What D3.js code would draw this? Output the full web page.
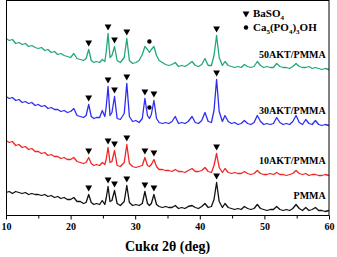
<!DOCTYPE html>
<html>
<head>
<meta charset="utf-8">
<script src="https://cdn.jsdelivr.net/npm/d3@7"></script>
<style>
  body { margin: 0; background: #fff; }
  svg { display: block; }
</style>
</head>
<body>
<div id="chart"></div>
<script>
// 2theta grid (deg), shared by all four patterns
const twoTheta = [
  10.0, 10.5, 11.0, 11.5, 12.0, 12.5, 13.0, 13.5, 14.0, 14.5,
  15.0, 15.5, 16.0, 16.5, 17.0, 17.5, 18.0, 18.5, 19.0, 19.5,
  20.0, 20.5, 21.0, 21.5, 22.0, 22.4, 22.8, 23.2, 23.6, 24.0,
  24.5, 24.9, 25.3, 25.5, 25.8, 26.1, 26.4, 26.8, 27.2, 27.7,
  28.3, 28.7, 29.1, 29.6, 30.1, 30.6, 31.1, 31.5, 31.9, 32.2,
  32.5, 32.9, 33.3, 33.7, 34.2, 34.7, 35.2, 35.7, 36.2, 36.7,
  37.2, 37.7, 38.2, 38.8, 39.3, 39.8, 40.3, 40.8, 41.3, 41.8,
  42.2, 42.6, 43.0, 43.5, 43.9, 44.4, 44.9, 45.4, 45.9, 46.4,
  46.9, 47.4, 47.9, 48.4, 48.9, 49.4, 49.9, 50.4, 50.9, 51.4,
  51.9, 52.4, 52.9, 53.4, 53.9, 54.4, 54.9, 55.4, 55.9, 56.4,
  56.9, 57.4, 57.9, 58.4, 58.9, 59.4, 60.0
];

// intensities (a.u., stacked offsets included)
const pmma = [
  23, 24, 22, 24, 23, 22, 23, 21, 22, 21,
  21, 20, 21, 19, 20, 18, 19, 17, 18, 16,
  16, 18, 14, 14, 12, 13, 21, 13, 11, 12,
  11, 15, 11, 17, 29, 14, 15, 25, 12, 10,
  14, 30, 13, 10, 11, 10, 12, 24, 12, 10,
  12, 21, 11, 9, 8, 9, 8, 8, 10, 7,
  8, 7, 9, 10, 8, 7, 9, 12, 8, 9,
  16, 33, 14, 8, 12, 8, 7, 6, 7, 6,
  9, 7, 6, 7, 11, 7, 6, 5, 6, 6,
  9, 6, 5, 6, 5, 7, 11, 7, 5, 8,
  5, 6, 8, 5, 5, 4, 5
];
const akt10 = [
  75, 73, 74, 70, 71, 68, 69, 66, 67, 64,
  64, 62, 63, 60, 61, 59, 59, 57, 58, 56,
  56, 58, 54, 53, 52, 53, 58, 52, 50, 51,
  50, 53, 51, 56, 68, 53, 54, 65, 50, 49,
  53, 71, 52, 49, 48, 49, 50, 58, 50, 49,
  51, 56, 49, 46, 46, 45, 45, 44, 46, 44,
  44, 43, 45, 47, 44, 44, 45, 48, 44, 43,
  50, 62, 48, 43, 47, 43, 42, 43, 42, 42,
  44, 42, 41, 42, 45, 42, 41, 41, 42, 41,
  43, 41, 41, 40, 41, 42, 45, 42, 41, 42,
  40, 41, 41, 40, 40, 41, 40
];
const akt30 = [
  119, 117, 118, 115, 116, 113, 114, 112, 113, 110,
  111, 109, 110, 107, 108, 106, 106, 104, 105, 103,
  104, 107, 100, 99, 98, 100, 111, 99, 97, 98,
  98, 105, 99, 108, 129, 100, 103, 119, 97, 96,
  102, 132, 99, 94, 95, 93, 97, 117, 100, 97,
  101, 115, 97, 93, 92, 93, 92, 94, 99, 92,
  93, 92, 94, 99, 93, 92, 95, 103, 94, 93,
  105, 136, 104, 94, 100, 94, 92, 93, 91, 92,
  95, 92, 91, 93, 100, 94, 91, 92, 91, 92,
  98, 93, 91, 92, 91, 94, 100, 93, 91, 96,
  92, 91, 95, 91, 90, 91, 90
];
const akt50 = [
  177, 175, 176, 172, 173, 171, 172, 169, 170, 168,
  167, 168, 165, 166, 163, 164, 161, 162, 160, 159,
  158, 162, 157, 156, 155, 157, 166, 155, 153, 154,
  153, 156, 154, 163, 182, 158, 160, 169, 155, 153,
  158, 177, 155, 152, 153, 155, 161, 169, 166, 163,
  166, 169, 160, 155, 153, 151, 150, 151, 153, 149,
  150, 149, 151, 154, 150, 149, 151, 157, 150, 150,
  160, 180, 158, 150, 154, 150, 149, 148, 149, 148,
  151, 149, 148, 149, 154, 150, 148, 149, 148, 148,
  152, 149, 148, 148, 147, 149, 152, 149, 148, 148,
  149, 147, 148, 147, 146, 147, 146
];

const seriesNames = ["PMMA", "10AKT/PMMA", "30AKT/PMMA", "50AKT/PMMA"];
const seriesColors = ["#111111", "#f02626", "#2d2df2", "#23a67c"];

// peak markers (deg)
const baso4Peaks = [22.8, 25.8, 26.8, 28.7, 31.5, 32.9, 42.6];
const baso4Peaks50 = [22.8, 25.8, 26.8, 28.7, 42.6];
const hapPeaks = [32.2];

const xTicks = [10, 20, 30, 40, 50, 60];
const xMinorTicks = [15, 25, 35, 45, 55];

const width = 337, height = 257;
const serif = "'Liberation Serif', 'Times New Roman', serif";

const x = d3.scaleLinear().domain([10, 60]).range([6, 329]);
const y = d3.scaleLinear().domain([0, 215]).range([215.5, 0.5]);

const svg = d3.select("#chart").append("svg")
  .attr("width", width)
  .attr("height", height)
  .style("background", "#fff");

const series = [
  {name: seriesNames[0], values: pmma, color: seriesColors[0], tri: baso4Peaks, dot: []},
  {name: seriesNames[1], values: akt10, color: seriesColors[1], tri: baso4Peaks, dot: []},
  {name: seriesNames[2], values: akt30, color: seriesColors[2], tri: baso4Peaks, dot: hapPeaks},
  {name: seriesNames[3], values: akt50, color: seriesColors[3], tri: baso4Peaks50, dot: hapPeaks}
];

const line = d3.line()
  .x((d, i) => x(twoTheta[i]))
  .y(d => y(d));

const valueAt = (s, t) => s.values[twoTheta.findIndex(v => Math.abs(v - t) < 0.01)];

const tri = d3.symbol().type(d3.symbolTriangle).size(20);

series.forEach(s => {
  const n = Math.min(s.values.length, twoTheta.length);
  svg.append("path")
    .attr("d", line(s.values.slice(0, n)))
    .attr("fill", "none")
    .attr("stroke", s.color)
    .attr("stroke-width", 1.3)
    .attr("stroke-linejoin", "round");

  svg.selectAll(null)
    .data(s.tri)
    .enter()
    .append("path")
    .attr("d", tri)
    .attr("transform", d => `translate(${x(d)},${y(valueAt(s, d)) - 7}) rotate(180)`)
    .attr("fill", "#000");

  svg.selectAll(null)
    .data(s.dot)
    .enter()
    .append("circle")
    .attr("cx", d => x(d))
    .attr("cy", d => y(valueAt(s, d)) - 11)
    .attr("r", 2.2)
    .attr("fill", "#000");

  svg.append("text")
    .attr("x", x(59.5))
    .attr("y", y(s.values[n - 1]) - 12)
    .attr("text-anchor", "end")
    .attr("font-family", serif)
    .attr("font-weight", 700)
    .attr("font-size", "10px")
    .text(s.name);
});

// frame
svg.append("rect")
  .attr("x", 6.5)
  .attr("y", 0.5)
  .attr("width", 322.5)
  .attr("height", 215)
  .attr("fill", "none")
  .attr("stroke", "#000")
  .attr("stroke-width", 1);

// x axis
const ax = svg.append("g")
  .attr("transform", "translate(0,215.5)")
  .call(d3.axisBottom(x).tickValues(xTicks).tickSize(4).tickFormat(d3.format("d")));
ax.select(".domain").remove();
ax.selectAll("text")
  .attr("dy", null)
  .attr("y", 14.5)
  .attr("font-family", serif)
  .attr("font-weight", 700)
  .attr("font-size", "10px")
  .attr("fill", "#000");

const axm = svg.append("g")
  .attr("transform", "translate(0,215.5)")
  .call(d3.axisBottom(x).tickValues(xMinorTicks).tickSize(3).tickFormat(""));
axm.select(".domain").remove();

svg.append("text")
  .attr("x", (x(10) + x(60)) / 2)
  .attr("y", 251)
  .attr("text-anchor", "middle")
  .attr("font-family", serif)
  .attr("font-weight", 700)
  .attr("font-size", "14px")
  .text("Cukα 2θ (deg)");

// legend
svg.append("path")
  .attr("d", tri)
  .attr("transform", "translate(246,13.5) rotate(180)")
  .attr("fill", "#000");
const l1 = svg.append("text")
  .attr("x", 253)
  .attr("y", 17)
  .attr("font-family", serif)
  .attr("font-weight", 700)
  .attr("font-size", "11px");
l1.append("tspan").text("BaSO");
l1.append("tspan").attr("font-size", "7px").attr("dy", 3).text("4");

svg.append("circle")
  .attr("cx", 246)
  .attr("cy", 27.5)
  .attr("r", 2.2)
  .attr("fill", "#000");
const l2 = svg.append("text")
  .attr("x", 253)
  .attr("y", 31)
  .attr("font-family", serif)
  .attr("font-weight", 700)
  .attr("font-size", "11px");
l2.append("tspan").text("Ca");
l2.append("tspan").attr("font-size", "7px").attr("dy", 3).text("5");
l2.append("tspan").attr("dy", -3).text("(PO");
l2.append("tspan").attr("font-size", "7px").attr("dy", 3).text("4");
l2.append("tspan").attr("dy", -3).text(")");
l2.append("tspan").attr("font-size", "7px").attr("dy", 3).text("3");
l2.append("tspan").attr("dy", -3).text("OH");
</script>
</body>
</html>
